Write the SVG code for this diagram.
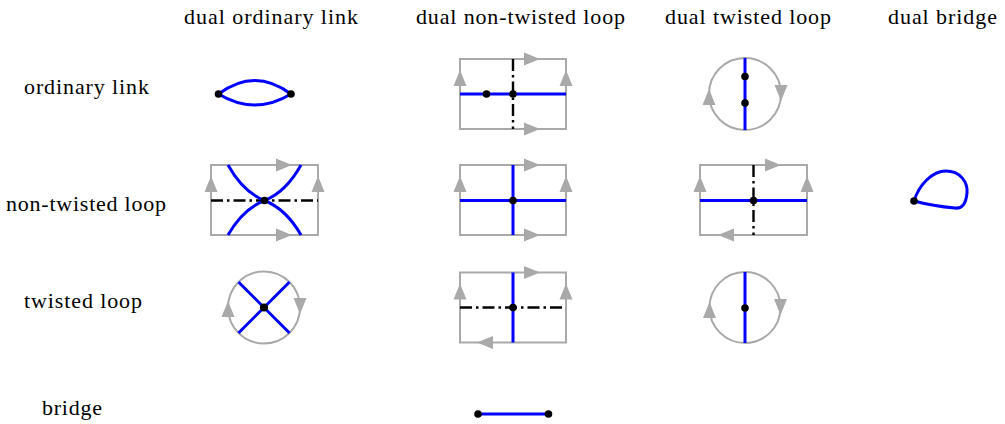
<svg xmlns="http://www.w3.org/2000/svg" xmlns:xlink="http://www.w3.org/1999/xlink" width="1005" height="424" viewBox="0 0 1005 424">
  <style>
    .lbl { font-family: "Liberation Serif", "Times New Roman", serif; font-size: 22px; fill: #000; }
    .frame { fill: none; stroke: #a9a9a9; stroke-width: 2; }
    .edge { fill: none; stroke: #0000ff; stroke-width: 3; stroke-linecap: butt; }
    .cut { fill: none; stroke: #000; stroke-width: 2.4; stroke-dasharray: 12 4 2.5 4; }
    .v { fill: #000; }
    .arr { fill: #a9a9a9; }
  </style>
  <defs>
    <!-- orientation arrowhead, tip at the origin, pointing along +x -->
    <path id="ah" class="arr" d="M0,0 L-16,-6.5 L-16,6.5 Z"/>
  </defs>

  <!-- column headings -->
  <g id="headings">
    <text class="lbl" x="184" y="24" textLength="174">dual ordinary link</text>
    <text class="lbl" x="416" y="24" textLength="209">dual non-twisted loop</text>
    <text class="lbl" x="665" y="24" textLength="166">dual twisted loop</text>
    <text class="lbl" x="888" y="24" textLength="109">dual bridge</text>
  </g>

  <!-- row headings -->
  <g id="rows">
    <text class="lbl" x="24" y="94" textLength="125">ordinary link</text>
    <text class="lbl" x="6" y="211" textLength="160">non-twisted loop</text>
    <text class="lbl" x="24" y="308" textLength="118">twisted loop</text>
    <text class="lbl" x="42" y="415" textLength="60">bridge</text>
  </g>

  <!-- ordinary link / dual ordinary link: two edges between two vertices -->
  <g id="ol-dol">
    <path class="edge" d="M218.5,94 Q254.75,67 291,94"/>
    <path class="edge" d="M218.5,94 Q254.75,116 291,94"/>
    <circle class="v" cx="218.5" cy="94" r="3.8"/>
    <circle class="v" cx="291" cy="94" r="3.8"/>
  </g>

  <!-- ordinary link / dual non-twisted loop -->
  <g id="ol-dntl">
    <path class="frame" d="M460,59 H566 V129 H460 Z"/>
    <line class="cut" x1="513" y1="59" x2="513" y2="129"/>
    <line class="edge" x1="460" y1="94" x2="566" y2="94"/>
    <circle class="v" cx="486.5" cy="94" r="3.8"/>
    <circle class="v" cx="513" cy="94" r="3.8"/>
    <use xlink:href="#ah" transform="translate(540,59)"/>
    <use xlink:href="#ah" transform="translate(540,129)"/>
    <use xlink:href="#ah" transform="translate(460,70) rotate(-90)"/>
    <use xlink:href="#ah" transform="translate(566,70) rotate(-90)"/>
  </g>

  <!-- ordinary link / dual twisted loop -->
  <g id="ol-dtl">
    <circle class="frame" cx="745" cy="94" r="36"/>
    <line class="edge" x1="745" y1="58" x2="745" y2="130"/>
    <circle class="v" cx="745" cy="76.5" r="3.8"/>
    <circle class="v" cx="745" cy="103" r="3.8"/>
    <use xlink:href="#ah" transform="translate(709,89) rotate(-90)"/>
    <use xlink:href="#ah" transform="translate(781,101) rotate(90)"/>
  </g>

  <!-- non-twisted loop / dual ordinary link -->
  <g id="ntl-dol">
    <path class="frame" d="M211,165 H318 V235 H211 Z"/>
    <line class="cut" x1="211" y1="200.5" x2="318" y2="200.5"/>
    <path class="edge" d="M228,165 Q243,192 264.5,200.5 Q286,209 301,235"/>
    <path class="edge" d="M301,165 Q286,192 264.5,200.5 Q243,209 228,235"/>
    <circle class="v" cx="264.5" cy="200.5" r="3.8"/>
    <use xlink:href="#ah" transform="translate(292,165)"/>
    <use xlink:href="#ah" transform="translate(292,235)"/>
    <use xlink:href="#ah" transform="translate(211,176) rotate(-90)"/>
    <use xlink:href="#ah" transform="translate(318,176) rotate(-90)"/>
  </g>

  <!-- non-twisted loop / dual non-twisted loop -->
  <g id="ntl-dntl">
    <path class="frame" d="M460,165 H566 V235 H460 Z"/>
    <line class="edge" x1="460" y1="200.5" x2="566" y2="200.5"/>
    <line class="edge" x1="513" y1="165" x2="513" y2="235"/>
    <circle class="v" cx="513" cy="200.5" r="3.8"/>
    <use xlink:href="#ah" transform="translate(540,165)"/>
    <use xlink:href="#ah" transform="translate(540,235)"/>
    <use xlink:href="#ah" transform="translate(460,176) rotate(-90)"/>
    <use xlink:href="#ah" transform="translate(566,176) rotate(-90)"/>
  </g>

  <!-- non-twisted loop / dual twisted loop -->
  <g id="ntl-dtl">
    <path class="frame" d="M700,165 H807 V235 H700 Z"/>
    <line class="cut" x1="753.5" y1="165" x2="753.5" y2="235"/>
    <line class="edge" x1="700" y1="200.5" x2="807" y2="200.5"/>
    <circle class="v" cx="753.5" cy="200.5" r="3.8"/>
    <use xlink:href="#ah" transform="translate(781,165)"/>
    <use xlink:href="#ah" transform="translate(718,235) rotate(180)"/>
    <use xlink:href="#ah" transform="translate(700,176) rotate(-90)"/>
    <use xlink:href="#ah" transform="translate(807,176) rotate(-90)"/>
  </g>

  <!-- non-twisted loop / dual bridge -->
  <g id="ntl-db">
    <path class="edge" d="M914,201 C919,185 932,171 946,171 C960,171 968,182 967,193 C966,204 962,209 955,208 C943,207 925,204 914,201"/>
    <circle class="v" cx="914" cy="201" r="3.8"/>
  </g>

  <!-- twisted loop / dual ordinary link -->
  <g id="tl-dol">
    <circle class="frame" cx="264" cy="307.5" r="36"/>
    <line class="edge" x1="238.5" y1="282" x2="289.5" y2="333"/>
    <line class="edge" x1="289.5" y1="282" x2="238.5" y2="333"/>
    <circle class="v" cx="264" cy="307.5" r="4"/>
    <use xlink:href="#ah" transform="translate(228,301) rotate(-90)"/>
    <use xlink:href="#ah" transform="translate(300,314) rotate(90)"/>
  </g>

  <!-- twisted loop / dual non-twisted loop -->
  <g id="tl-dntl">
    <path class="frame" d="M460,272.5 H566 V342.5 H460 Z"/>
    <line class="cut" x1="460" y1="307.5" x2="566" y2="307.5"/>
    <line class="edge" x1="513" y1="272.5" x2="513" y2="342.5"/>
    <circle class="v" cx="513" cy="307.5" r="3.8"/>
    <use xlink:href="#ah" transform="translate(540,272.5)"/>
    <use xlink:href="#ah" transform="translate(477,342.5) rotate(180)"/>
    <use xlink:href="#ah" transform="translate(460,283.5) rotate(-90)"/>
    <use xlink:href="#ah" transform="translate(566,283.5) rotate(-90)"/>
  </g>

  <!-- twisted loop / dual twisted loop -->
  <g id="tl-dtl">
    <circle class="frame" cx="745" cy="307.5" r="35.5"/>
    <line class="edge" x1="745" y1="272" x2="745" y2="343"/>
    <circle class="v" cx="745" cy="308" r="3.8"/>
    <use xlink:href="#ah" transform="translate(709.5,302) rotate(-90)"/>
    <use xlink:href="#ah" transform="translate(780.5,315) rotate(90)"/>
  </g>

  <!-- bridge / dual non-twisted loop -->
  <g id="b-dntl">
    <line class="edge" x1="478" y1="414" x2="548.5" y2="414"/>
    <circle class="v" cx="478" cy="414" r="3.8"/>
    <circle class="v" cx="548.5" cy="414" r="3.8"/>
  </g>
</svg>
